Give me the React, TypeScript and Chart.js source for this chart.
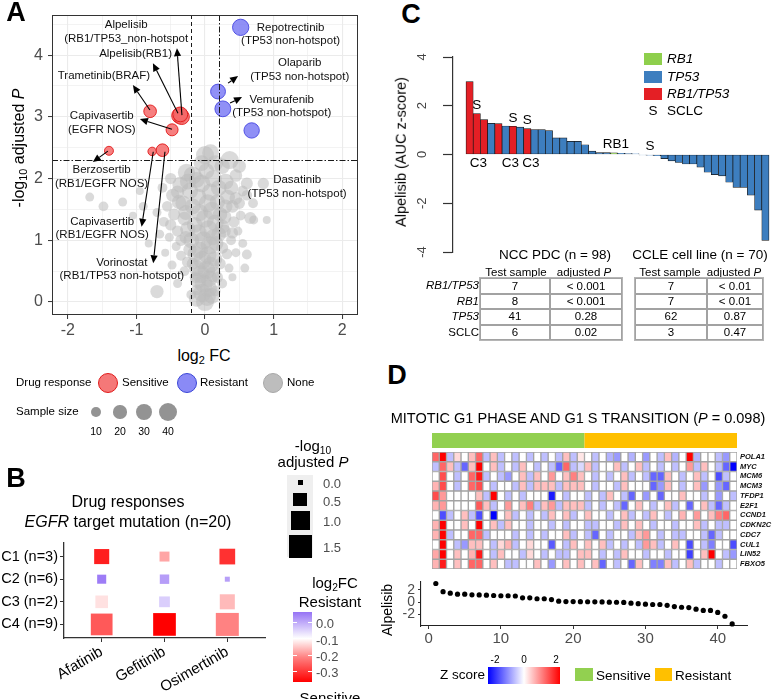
import React, { useEffect, useRef } from 'react';
import { Chart, registerables } from 'chart.js';

Chart.register(...registerables);

const FONT = '"Liberation Sans", Arial, Helvetica, sans-serif';
Chart.defaults.font.family = FONT;

/* ---------------- Panel A: volcano plot ---------------- */
// [log2 FC, -log10 adjusted P, sample size]
const nonePoints: [number, number, number][] = [
  [0.00, 0.00, 40], [0.03, 0.08, 38], [-0.04, 0.15, 40], [0.05, 0.22, 36], [-0.02, 0.30, 40],
  [0.06, 0.38, 34], [-0.06, 0.45, 38], [0.02, 0.52, 40], [0.08, 0.60, 32], [-0.04, 0.68, 40],
  [0.04, 0.76, 38], [-0.08, 0.84, 34], [0.07, 0.92, 40], [-0.02, 1.00, 40], [0.12, 1.05, 30],
  [-0.10, 1.12, 36], [0.05, 1.18, 40], [-0.15, 1.25, 30], [0.15, 1.28, 34], [0.00, 1.35, 40],
  [-0.08, 1.45, 36], [0.10, 1.48, 38], [-0.18, 1.55, 30], [0.04, 1.60, 40], [0.18, 1.62, 28],
  [-0.10, 1.70, 34], [0.08, 1.78, 36], [-0.22, 1.80, 32], [0.20, 1.85, 30], [-0.05, 1.92, 38],
  [0.12, 2.00, 36], [-0.18, 2.05, 40], [0.02, 2.12, 30], [0.00, 2.38, 40], [0.36, 2.30, 40],
  [0.50, 2.20, 20], [-0.27, 2.10, 36], [-0.12, 1.98, 30],
  [-0.12, 0.05, 30], [0.10, 0.10, 30], [-0.10, 0.35, 30], [0.12, 0.45, 28], [-0.12, 0.55, 30],
  [0.14, 0.70, 28], [-0.14, 0.78, 30], [0.16, 0.95, 26], [-0.20, 1.00, 30], [0.20, 1.10, 26],
  [-0.25, 1.18, 28], [0.25, 1.22, 24], [-0.28, 1.45, 26], [0.28, 1.38, 24], [-0.32, 1.60, 28],
  [0.30, 1.55, 22], [-0.25, 1.95, 30], [0.38, 1.85, 24], [-0.40, 1.78, 20], [0.45, 1.68, 18],
  [-0.05, 2.25, 30], [0.15, 2.25, 30], [0.08, 2.42, 34], [-0.50, 1.25, 14], [0.40, 1.12, 14],
  [-0.35, 1.00, 14], [0.32, 0.78, 12], [-0.26, 0.65, 12], [0.25, 0.30, 10], [-0.20, 0.12, 10],
  [-0.30, 1.35, 22], [-0.28, 1.05, 18], [-0.22, 0.85, 20], [-0.18, 0.62, 16], [-0.14, 0.40, 14],
  [-0.12, 0.20, 12], [-0.35, 0.75, 10], [-0.40, 1.15, 14], [-0.45, 1.42, 16], [-0.38, 1.62, 24],
  [-0.47, 1.73, 20], [-0.55, 1.55, 12], [-0.60, 1.30, 10], [-0.52, 1.05, 8], [-0.42, 0.90, 8],
  [-0.48, 0.60, 8], [-0.30, 0.50, 10], [-0.58, 0.80, 6], [-0.66, 1.10, 8], [-0.70, 1.45, 8],
  [-0.36, 1.90, 30], [-0.50, 2.00, 14], [-0.62, 1.85, 10], [-0.70, 0.17, 20], [-0.82, 0.95, 6],
  [-0.90, 1.55, 8], [-1.05, 1.40, 6], [-1.20, 1.62, 8], [-1.48, 1.55, 10], [-1.68, 1.70, 8],
  [-0.95, 1.80, 6], [-0.40, 0.30, 8],
  [0.22, 1.42, 24], [0.28, 1.15, 20], [0.25, 0.88, 16], [0.22, 0.62, 14], [0.18, 0.40, 14],
  [0.15, 0.18, 12], [0.33, 1.70, 26], [0.30, 1.95, 30], [0.40, 1.55, 18], [0.42, 1.30, 14],
  [0.38, 1.00, 10], [0.45, 0.80, 8], [0.35, 0.55, 8], [0.50, 1.60, 14], [0.52, 1.40, 10],
  [0.48, 1.15, 8], [0.55, 0.95, 8], [0.61, 1.92, 16], [0.61, 1.73, 12], [0.66, 1.36, 16],
  [0.71, 1.33, 8], [0.90, 1.33, 6], [0.85, 1.92, 14], [0.61, 0.77, 10], [0.58, 0.55, 8],
  [0.45, 2.05, 18], [0.25, 2.20, 28], [0.55, 1.80, 12], [0.70, 1.60, 10], [0.40, 0.40, 6],
];
const sensitivePoints: [number, number, number][] = [
  [-0.80, 3.09, 18], [-0.37, 3.02, 30], [-0.34, 3.00, 28], [-0.36, 3.04, 26],
  [-0.48, 2.79, 16], [-1.40, 2.45, 8], [-0.77, 2.44, 7], [-0.62, 2.46, 18],
];
const resistantPoints: [number, number, number][] = [
  [0.52, 4.45, 32], [0.19, 3.41, 26], [0.26, 3.13, 30], [0.68, 2.78, 28],
];
const foldChangeCutoffs = [-0.2, 0.2];
const pValueCutoff = 2.3;
const sampleSizeLegend = [10, 20, 30, 40];

const volcanoLabels = [
  { lines: ['Alpelisib', '(RB1/TP53_non-hotspot'], x: -1.149, y: 4.486 },
  { lines: ['Alpelisib(RB1)'], x: -1.012, y: 4.028 },
  { lines: ['Trametinib(BRAF)'], x: -1.474, y: 3.66 },
  { lines: ['Capivasertib', '(EGFR NOS)'], x: -1.504, y: 3.012 },
  { lines: ['Berzosertib', '(RB1/EGFR NOS)'], x: -1.508, y: 2.138 },
  { lines: ['Capivasertib', '(RB1/EGFR NOS)'], x: -1.499, y: 1.30 },
  { lines: ['Vorinostat', '(RB1/TP53 non-hotspot)'], x: -1.212, y: 0.643 },
  { lines: ['Repotrectinib', '(TP53 non-hotspot)'], x: 1.248, y: 4.449 },
  { lines: ['Olaparib', '(TP53 non-hotspot)'], x: 1.38, y: 3.875 },
  { lines: ['Vemurafenib', '(TP53 non-hotspot)'], x: 1.118, y: 3.283 },
  { lines: ['Dasatinib', '(TP53 non-hotspot)'], x: 1.343, y: 1.976 },
];
const volcanoArrows: [number, number, number, number][] = [
  [-0.336, 3.028, -0.409, 4.113],
  [-0.394, 3.06, -0.759, 3.87],
  [-0.803, 3.11, -1.051, 3.514],
  [-0.482, 2.80, -0.949, 2.964],
  [-1.416, 2.445, -1.635, 2.267],
  [-0.754, 2.434, -0.924, 1.219],
  [-0.584, 2.434, -0.754, 0.627],
  [0.336, 3.547, 0.482, 3.66],
  [0.365, 3.223, 0.54, 3.32],
];

/* ---------------- Panel B ---------------- */
const drugsB = ['Afatinib', 'Gefitinib', 'Osimertinib'];
const clustersB = ['C1 (n=3)', 'C2 (n=6)', 'C3 (n=2)', 'C4 (n=9)'];
const log2fcB = [
  [-0.35, -0.2, -0.33],
  [0.05, 0.012, 0.01],
  [-0.134, -0.044, -0.177],
  [-0.285, -0.385, -0.24],
];
const negLogPB = [
  [0.6, 0.22, 0.66],
  [0.17, 0.19, 0.0],
  [0.4, 0.27, 0.6],
  [1.33, 1.46, 1.5],
];
const pLegendValues = [0.0, 0.5, 1.0, 1.5];
const fcLegendValues = [0.0, -0.1, -0.2, -0.3];

/* ---------------- Panel C ---------------- */
const alpelisibScores = [
  2.99, 1.68, 1.43, 1.28, 1.27, 1.17, 1.16, 1.12, 1.06, 1.02,
  1.02, 0.98, 0.68, 0.68, 0.54, 0.54, 0.40, 0.14, 0.08, 0.08,
  0.07, 0.05, 0.04, 0.03, -0.02, -0.03, -0.05, -0.17, -0.26, -0.33,
  -0.39, -0.39, -0.52, -0.73, -0.83, -0.88, -1.14, -1.35, -1.35, -1.67,
  -2.28, -3.52,
];
const scoreGroups = [
  'RB1/TP53', 'RB1/TP53', 'RB1/TP53', 'TP53', 'RB1/TP53', 'TP53', 'RB1/TP53', 'TP53', 'RB1/TP53', 'TP53',
  'TP53', 'TP53', 'TP53', 'TP53', 'TP53', 'TP53', 'TP53', 'TP53', 'TP53', 'TP53',
  'RB1', 'TP53', 'TP53', 'TP53', 'TP53', 'TP53', 'TP53', 'TP53', 'TP53', 'TP53',
  'TP53', 'TP53', 'TP53', 'TP53', 'TP53', 'TP53', 'TP53', 'TP53', 'TP53', 'TP53',
  'TP53', 'TP53',
];
const groupColors: Record<string, string> = { RB1: '#8ecf4c', TP53: '#3d7ebf', 'RB1/TP53': '#e41f25' };
const sclcBars = [2, 7, 9, 26];
const c3Bars = [2, 7, 9];
const c3Shift = [1.5, -2.5, 3.5];
const rb1Bar = 21;

const tableRowLabels = ['RB1/TP53', 'RB1', 'TP53', 'SCLC'];
const nccTestSample = ['7', '8', '41', '6'];
const nccAdjP = ['< 0.001', '< 0.001', '0.28', '0.02'];
const ccleTestSample = ['7', '7', '62', '3'];
const ccleAdjP = ['< 0.01', '< 0.01', '0.87', '0.47'];

/* ---------------- Panel D ---------------- */
const heatGenes = ['POLA1', 'MYC', 'MCM6', 'MCM3', 'TFDP1', 'E2F1', 'CCND1', 'CDKN2C', 'CDC7', 'CUL1', 'LIN52', 'FBXO5'];
const zPOLA1 = [1.2, 2, -0.5, 0.3, 0, 0.5, 1.2, -0.5, 0.5, -0.5, 0, -0.5, 0, -0.5, 0, -0.5, 0, -0.5, 0.5, -0.5, 0.2, 0, -0.5, 0, -0.6, -0.8, 0, -0.6, 0, -0.8, 0, -0.5, 0.5, -0.6, 0, 2, -0.6, 0, 0, -0.5, -0.8, 0];
const zMYC = [-0.5, 1.2, 0.5, -0.5, -1.2, 0.5, 2, 0, 0.5, -0.5, 0, -0.5, 0.5, 0, -0.5, 0, -0.5, -1.2, 1.2, -0.5, -0.3, 0.5, -0.5, 0, 0, 0.5, -0.5, 0, 0.5, -0.5, 0, -0.5, 0, -0.5, 0, 0.8, -0.5, 0.5, 0, -0.5, -1.2, -2];
const zMCM6 = [0, 1.4, 0, -0.5, 0, 1.2, 1.8, -0.5, 0, -0.5, -0.8, 0, 0.5, -0.5, 0.5, 0, 0.8, 0, 0.5, 1.0, 0.5, 0, -0.5, 0, -0.5, 0, 0.5, -0.5, 0, -0.5, -1.2, -1.2, 0.5, 0, -0.5, 0, 0.5, -0.5, 0, -1.4, -0.5, 0];
const zMCM3 = [0.6, 1.4, 0, -0.5, 0, 1.2, 1.4, 0, -0.5, 0, 0, -0.5, 0.5, -0.5, 0.5, 0.5, 0.5, -0.5, 0.5, 0.5, 0.5, 0, -0.5, 0, 0, -0.5, 0.5, 0, 0, 0, -1.2, -0.8, 0.5, 0, -0.5, 0, 0.5, -0.8, 0, -0.8, -1.2, 0];
const zTFDP1 = [1.4, 0.8, 0, 0, 0, 0, 0.5, -0.5, 2, 0, -0.5, 0, -0.5, 0, 0, 0, -1.8, 0, -0.5, 0, 0, -0.5, 0, -0.5, 0.5, 0, -0.5, -1.2, 0, -0.8, 0, -1.2, 0, 0, 0.5, 0, 0, -0.5, 0, -0.8, 0, -0.5];
const zE2F1 = [0.6, 0.8, 0, 0, 0, 0, 1.3, 0.5, -0.5, 0, 0.8, 0, 0.5, 1.0, -0.5, 0.5, 0.8, -0.5, 0.5, 0.5, 0.5, -0.5, 0, -0.5, 0, -0.5, -1.2, 0, 0.5, 0, -0.5, 0, 0.5, -0.5, 0, -1.2, 0, 0.5, -0.5, -1.2, -0.5, 0];
const zCCND1 = [0, -1.4, -0.5, 0, 0.5, -0.5, -1.4, 0, -2, 0, 0.5, -0.5, 0, -0.5, 0, -0.5, 0.5, 0, 0.5, -0.5, 0, 0.5, 0, 0, -0.5, 0, 0.5, -0.5, 0, -0.5, 0.5, 0, -0.5, 0, 0.6, 0, 0.8, 0, 0.5, 1.0, 1.2, 0];
const zCDKN2C = [0.6, 2, 0, 0, 0.5, 0, 2, 0, 0.5, -0.5, 0.5, 0, 0, -0.5, 0, 0, -0.5, 0, -0.5, 0, 0, -0.5, -0.5, 0, 0, -0.5, 0.5, 0, 0.5, 0, -0.5, 0, 0, -0.5, 0, 0, 0.5, -0.5, 0, -0.5, -0.5, 0];
const zCDC7 = [0.6, 2, -0.5, 0, 0, 1.2, 1.2, -0.5, 0, 0, 0, -0.5, 0, -0.5, 0, -0.5, 0, 0, 0.5, -0.5, 0, -0.5, -1.2, 0, -0.5, 0, 0, -0.5, 0.5, 0.8, 0, -0.5, 0, -0.5, -0.5, 0, 0, -0.5, -1.2, -0.5, 0, 0];
const zCUL1 = [0, 2, 0, -0.5, -0.8, 0.5, 0.5, 0, -0.5, 0.3, 0.6, -0.5, 0, 0.3, 0, 0, -1.3, 0, -0.5, 0.5, 0, 0.5, 0, 0.5, -0.5, 0, -0.5, 0, -0.5, 0.8, 0.5, -0.5, 0, 0.5, 0, -1.4, 0, -0.5, -1.0, 0, 0, -1.4];
const zLIN52 = [0.7, 2, 0, 0.5, 0, 0.6, 1.8, 0, -0.5, 0.5, 0, 0, -0.5, 0.3, 0, -0.5, 0, -0.5, -0.5, 0, 0.5, 0.5, 0, -0.5, 0, -0.5, 0.5, 0, 0, -0.5, 0, 0, -0.5, 0, 0, -1.5, 0, 0.5, 2, 0, -0.5, -0.8];
const zFBXO5 = [0.6, 1.8, 0, 0.5, 0, 1.2, 1.2, 0, 0.5, 0, -0.5, -0.5, 0, 0, 0.5, 0, -0.8, 0, 0.5, 0, 0.5, 0, 0.5, -1.2, 0, -0.5, 0, -1.2, 0.5, 0, -1.0, -1.0, 0.5, -0.5, 0, 0.5, -0.5, 0, 0, -0.5, 0, 0];
const heatRows = [zPOLA1, zMYC, zMCM6, zMCM3, zTFDP1, zE2F1, zCCND1, zCDKN2C, zCDC7, zCUL1, zLIN52, zFBXO5];
const nSensitive = 21;
const SENS_COLOR = '#92d050';
const RES_COLOR = '#ffc000';

/* ---------------- helpers ---------------- */
const sampleRadius = (n: number) => 1.3 * Math.sqrt(n) + 0.8;
const bubbles = (pts: [number, number, number][]) => pts.map(([x, y, n]) => ({ x, y, r: sampleRadius(n) }));
const isInt = (v: number) => Math.abs(v - Math.round(v)) < 1e-6;
const mix = (a: number[], b: number[], t: number) =>
  `rgb(${a.map((v, i) => Math.round(v + (b[i] - v) * t)).join(',')})`;
const fcColor = (v: number) =>
  v >= -0.1
    ? mix([255, 255, 255], [150, 115, 245], Math.min((v + 0.1) / 0.16, 1))
    : mix([255, 255, 255], [255, 0, 0], Math.min((-0.1 - v) / 0.285, 1));
const squareSide = (p: number) => Math.sqrt(25 + 336 * p);
const zColor = (v: number) => {
  const t = Math.max(-1, Math.min(1, v / 2));
  return t >= 0 ? mix([255, 255, 255], [255, 0, 0], t) : mix([255, 255, 255], [0, 0, 255], -t);
};

function drawArrow(ctx: CanvasRenderingContext2D, x0: number, y0: number, x1: number, y1: number) {
  const ang = Math.atan2(y1 - y0, x1 - x0);
  const L = 8, W = 3.6;
  const bx = x1 - L * Math.cos(ang), by = y1 - L * Math.sin(ang);
  ctx.beginPath(); ctx.moveTo(x0, y0); ctx.lineTo(bx, by); ctx.stroke();
  ctx.beginPath(); ctx.moveTo(x1, y1);
  ctx.lineTo(bx + W * Math.sin(ang), by - W * Math.cos(ang));
  ctx.lineTo(bx - W * Math.sin(ang), by + W * Math.cos(ang));
  ctx.closePath(); ctx.fill();
}

const noTip = { legend: { display: false }, tooltip: { enabled: false } };

/* ---------------- charts ---------------- */
function makeVolcano(canvas: HTMLCanvasElement) {
  const plugin = {
    id: 'volcanoDecor',
    afterDatasetsDraw(chart: any) {
      const { ctx, chartArea: ca } = chart;
      const x = chart.scales.x, y = chart.scales.y;
      ctx.save();
      ctx.strokeStyle = '#1a1a1a'; ctx.lineWidth = 1;
      foldChangeCutoffs.forEach((v, i) => {
        ctx.setLineDash(i === 0 ? [4, 3] : [6, 2, 1.5, 2]);
        const px = Math.round(x.getPixelForValue(v)) + 0.5;
        ctx.beginPath(); ctx.moveTo(px, ca.top); ctx.lineTo(px, ca.bottom); ctx.stroke();
      });
      ctx.setLineDash([6, 2, 1.5, 2]);
      const py = Math.round(y.getPixelForValue(pValueCutoff)) + 0.5;
      ctx.beginPath(); ctx.moveTo(ca.left, py); ctx.lineTo(ca.right, py); ctx.stroke();
      ctx.setLineDash([]);
      ctx.strokeStyle = '#333'; ctx.lineWidth = 1;
      ctx.strokeRect(ca.left + 0.5, ca.top + 0.5, ca.width - 1, ca.height - 1);
      ctx.strokeStyle = '#000'; ctx.fillStyle = '#000'; ctx.lineWidth = 1.1;
      volcanoArrows.forEach(([x0, y0, x1, y1]) =>
        drawArrow(ctx, x.getPixelForValue(x0), y.getPixelForValue(y0), x.getPixelForValue(x1), y.getPixelForValue(y1)));
      ctx.font = `11.5px ${FONT}`; ctx.textAlign = 'center'; ctx.textBaseline = 'middle'; ctx.fillStyle = '#111';
      volcanoLabels.forEach((l) => {
        const px = x.getPixelForValue(l.x), p0 = y.getPixelForValue(l.y);
        l.lines.forEach((t, i) => ctx.fillText(t, px, p0 + i * 13.5));
      });
      ctx.restore();
    },
  };
  const axis = (min: number, max: number, fit: (s: any) => void, pad: number) => ({
    type: 'linear', min, max,
    ticks: {
      stepSize: 0.5, includeBounds: false, autoSkip: false, maxRotation: 0, padding: pad,
      color: '#4d4d4d', font: { size: 16 },
      callback: (v: number) => (isInt(v) ? String(Math.round(v)) : ''),
    },
    grid: {
      color: '#ebebeb', lineWidth: (c: any) => (c.tick && isInt(c.tick.value) ? 1.1 : 0.6),
      drawTicks: true, tickLength: 4, tickWidth: 1,
      tickColor: (c: any) => (c.tick && isInt(c.tick.value) ? '#333' : 'rgba(0,0,0,0)'),
    },
    border: { display: false },
    afterFit: fit,
  });
  return new Chart(canvas, {
    type: 'bubble',
    data: {
      datasets: [
        { data: bubbles(nonePoints), backgroundColor: 'rgba(188,188,188,0.55)', borderWidth: 0 },
        { data: bubbles(sensitivePoints), backgroundColor: 'rgba(244,105,105,0.85)', borderColor: 'rgba(225,25,25,0.9)', borderWidth: 1 },
        { data: bubbles(resistantPoints), backgroundColor: 'rgba(125,125,245,0.85)', borderColor: 'rgba(70,70,225,0.9)', borderWidth: 1 },
      ],
    } as any,
    options: {
      responsive: false, animation: false,
      layout: { padding: { left: 14, top: 15, right: 22, bottom: 0 } },
      plugins: noTip,
      scales: {
        x: axis(-2.23, 2.23, (s: any) => { s.height = 30; }, 2),
        y: axis(-0.21, 4.65, (s: any) => { s.width = 38; }, 5),
      },
    } as any,
    plugins: [plugin],
  });
}

function makeEgfrMatrix(canvas: HTMLCanvasElement) {
  const pts: any[] = [];
  clustersB.forEach((_, i) =>
    drugsB.forEach((__, j) =>
      pts.push({ x: j + 1, y: i + 1, side: squareSide(negLogPB[i][j]), color: fcColor(log2fcB[i][j]) })));
  const common = {
    grid: { drawOnChartArea: false, drawTicks: true, tickLength: 4, tickColor: '#333', tickWidth: 1 },
    border: { display: true, color: '#333', width: 1.3 },
  };
  return new Chart(canvas, {
    type: 'scatter',
    data: {
      datasets: [{
        data: pts,
        pointStyle: 'rect',
        pointRadius: (c: any) => (c.raw ? c.raw.side / Math.SQRT2 : 0),
        pointBackgroundColor: (c: any) => (c.raw ? c.raw.color : '#000'),
        pointBorderWidth: 0,
        clip: false,
      }],
    } as any,
    options: {
      responsive: false, animation: false,
      layout: { padding: { left: 2, top: 103, right: 25, bottom: 0 } },
      plugins: noTip,
      scales: {
        x: {
          type: 'linear', min: 0.4, max: 3.6,
          afterBuildTicks: (s: any) => { s.ticks = drugsB.map((_, i) => ({ value: i + 1 })); },
          ticks: { autoSkip: false, minRotation: 30, maxRotation: 30, color: '#000', font: { size: 15 }, padding: 1, callback: (v: number) => drugsB[Math.round(v) - 1] },
          afterFit: (s: any) => { s.height = 61; },
          ...common,
        },
        y: {
          type: 'linear', min: 0.4, max: 4.6, reverse: true,
          afterBuildTicks: (s: any) => { s.ticks = clustersB.map((_, i) => ({ value: i + 1 })); },
          ticks: { autoSkip: false, color: '#000', font: { size: 14.5 }, padding: 2, callback: (v: number) => clustersB[Math.round(v) - 1] },
          afterFit: (s: any) => { s.width = 62; },
          ...common,
        },
      },
    } as any,
  });
}

function makeWaterfall(canvas: HTMLCanvasElement) {
  const plugin = {
    id: 'waterfallDecor',
    afterDatasetsDraw(chart: any) {
      const { ctx, chartArea: ca } = chart;
      const x = chart.scales.x, y = chart.scales.y;
      ctx.save();
      ctx.fillStyle = '#444'; ctx.font = `13px ${FONT}`; ctx.textAlign = 'center'; ctx.textBaseline = 'middle';
      y.ticks.forEach((t: any) => {
        ctx.save(); ctx.translate(ca.left - 31, y.getPixelForValue(t.value)); ctx.rotate(-Math.PI / 2);
        ctx.fillText(String(t.value), 0, 0); ctx.restore();
      });
      ctx.fillStyle = '#000'; ctx.font = `13.5px ${FONT}`;
      const topOf = (i: number) => y.getPixelForValue(Math.max(alpelisibScores[i - 1], 0));
      sclcBars.forEach((i) => ctx.fillText('S', x.getPixelForValue(i), topOf(i) - 8));
      ctx.fillText('RB1', x.getPixelForValue(rb1Bar) + 2, topOf(rb1Bar) - 9);
      c3Bars.forEach((i, k) => ctx.fillText('C3', x.getPixelForValue(i) + c3Shift[k], y.getPixelForValue(0) + 9));
      ctx.restore();
    },
  };
  return new Chart(canvas, {
    type: 'bar',
    data: {
      datasets: [{
        data: alpelisibScores.map((v, i) => ({ x: i + 1, y: v })),
        backgroundColor: scoreGroups.map((g) => groupColors[g]),
        borderColor: '#151515', borderWidth: 0.7, borderSkipped: false,
        barPercentage: 1, categoryPercentage: 1,
      }],
    } as any,
    options: {
      responsive: false, animation: false,
      layout: { padding: { left: 13, top: 27, right: 3, bottom: 8 } },
      plugins: noTip,
      scales: {
        x: { type: 'linear', min: -1.3, max: 43.33, display: false, offset: false },
        y: {
          min: -4, max: 4,
          ticks: { stepSize: 2, display: false },
          grid: { drawOnChartArea: false, drawTicks: true, tickLength: 10, tickColor: '#333', tickWidth: 1.2 },
          border: { display: true, color: '#333', width: 1.2 },
          afterFit: (s: any) => { s.width = 40; },
        },
      },
    } as any,
    plugins: [plugin],
  });
}

function makeHeatmap(canvas: HTMLCanvasElement) {
  const nCols = heatRows[0].length;
  const plugin = {
    id: 'heatDecor',
    afterDatasetsDraw(chart: any) {
      const { ctx, chartArea: ca } = chart;
      const x = chart.scales.x, y = chart.scales.y;
      const step = x.getPixelForValue(1) - x.getPixelForValue(0);
      const left = x.getPixelForValue(0) - step / 2;
      const split = left + nSensitive * step;
      const right = left + nCols * step;
      ctx.save();
      ctx.fillStyle = SENS_COLOR; ctx.fillRect(left, ca.top - 19, split - left, 15);
      ctx.fillStyle = RES_COLOR; ctx.fillRect(split, ca.top - 19, right - split, 15);
      ctx.font = `italic bold 7.5px ${FONT}`; ctx.fillStyle = '#111'; ctx.textAlign = 'left'; ctx.textBaseline = 'middle';
      heatGenes.forEach((g, r) => ctx.fillText(g, ca.right + 3, y.getPixelForValue(heatGenes.length - r - 0.5)));
      ctx.restore();
    },
  };
  const datasets = heatGenes.map((g, r) => ({
    label: g,
    data: heatRows[r].map(() => 1),
    backgroundColor: heatRows[r].map(zColor),
    borderColor: '#a3a3a3', borderWidth: 1, borderSkipped: false,
    barPercentage: 1, categoryPercentage: 1,
  })).reverse();
  return new Chart(canvas, {
    type: 'bar',
    data: { labels: heatRows[0].map((_, i) => String(i + 1)), datasets } as any,
    options: {
      responsive: false, animation: false,
      layout: { padding: { left: 32, top: 27, right: 41, bottom: 6 } },
      plugins: noTip,
      scales: {
        x: { stacked: true, display: false },
        y: { stacked: true, display: false, min: 0, max: heatGenes.length },
      },
    } as any,
    plugins: [plugin],
  });
}

function makeDots(canvas: HTMLCanvasElement) {
  const grid = { drawOnChartArea: false, drawTicks: true, tickLength: 3, tickColor: '#333', tickWidth: 1 };
  const border = { display: true, color: '#222', width: 1.1 };
  return new Chart(canvas, {
    type: 'scatter',
    data: {
      datasets: [{
        data: alpelisibScores.map((v, i) => ({ x: i + 1, y: v })),
        pointRadius: 2.6, pointBackgroundColor: '#000', pointBorderWidth: 0, clip: false,
      }],
    } as any,
    options: {
      responsive: false, animation: false,
      layout: { padding: { left: 0, top: 9, right: 31, bottom: 0 } },
      plugins: noTip,
      scales: {
        x: {
          type: 'linear', min: -1.05, max: 44.05,
          ticks: { stepSize: 10, includeBounds: false, maxRotation: 0, color: '#4d4d4d', font: { size: 15 }, padding: 1 },
          grid, border, afterFit: (s: any) => { s.height = 30; },
        },
        y: {
          type: 'linear', min: -3.85, max: 3.33,
          ticks: { stepSize: 2, includeBounds: false, color: '#4d4d4d', font: { size: 14 }, padding: 3 },
          grid, border, afterFit: (s: any) => { s.width = 21; },
        },
      },
    } as any,
  });
}

/* ---------------- HTML helpers ---------------- */
type TP = { x: number; y: number; a?: 'start' | 'middle' | 'end'; s?: number; rot?: boolean; style?: React.CSSProperties; children: React.ReactNode };
const T = ({ x, y, a = 'middle', s = 13, rot, style, children }: TP) => {
  const tx = a === 'middle' ? '-50%' : a === 'end' ? '-100%' : '0';
  return (
    <div style={{
      position: 'absolute', left: x, top: y, fontSize: s, lineHeight: 1, whiteSpace: 'nowrap',
      transform: rot ? 'translate(-50%,-50%) rotate(-90deg)' : `translate(${tx},-50%)`, ...style,
    }}>{children}</div>
  );
};
const Box = ({ x, y, w, h, style }: { x: number; y: number; w: number; h: number; style?: React.CSSProperties }) => (
  <div style={{ position: 'absolute', left: x, top: y, width: w, height: h, boxSizing: 'border-box', ...style }} />
);
const Sub = ({ children }: { children: React.ReactNode }) => (
  <span style={{ fontSize: '0.68em', verticalAlign: '-0.3em', lineHeight: 0 }}>{children}</span>
);

function DataTable({ x, cols, a, b }: { x: number[]; cols: number; a: string[]; b: string[] }) {
  const top = 278.3, rh = 15.45;
  const out: React.ReactNode[] = [];
  a.forEach((v, i) => {
    [v, b[i]].forEach((txt, j) => {
      out.push(<Box key={`b${i}${j}`} x={x[j]} y={top + i * rh} w={x[j + 1] - x[j]} h={rh} style={{ border: '1px solid #a2a2a2' }} />);
      out.push(<T key={`t${i}${j}`} x={(x[j] + x[j + 1]) / 2} y={top + i * rh + rh / 2 + 0.5} s={11.5}>{txt}</T>);
    });
  });
  out.push(<Box key="outer" x={x[0] - 1} y={top - 1} w={x[cols] - x[0] + 2} h={rh * a.length + 2} style={{ border: '1px solid #b5b5b5' }} />);
  return <>{out}</>;
}

export default function App() {
  const aRef = useRef<HTMLCanvasElement | null>(null);
  const bRef = useRef<HTMLCanvasElement | null>(null);
  const cRef = useRef<HTMLCanvasElement | null>(null);
  const hRef = useRef<HTMLCanvasElement | null>(null);
  const dRef = useRef<HTMLCanvasElement | null>(null);

  useEffect(() => {
    const charts = [
      makeVolcano(aRef.current!),
      makeEgfrMatrix(bRef.current!),
      makeWaterfall(cRef.current!),
      makeHeatmap(hRef.current!),
      makeDots(dRef.current!),
    ];
    return () => charts.forEach((c) => c.destroy());
  }, []);

  const cv = (r: any, x: number, y: number, w: number, h: number) => (
    <canvas ref={r} width={w} height={h} style={{ position: 'absolute', left: x, top: y, width: w, height: h }} />
  );
  const bold = { fontWeight: 700 as const };
  const sizeKeys = [482, 499.5, 520, 546];
  const fcTicks = [622, 638.5, 655, 671];

  return (
    <div style={{ position: 'absolute', left: 0, top: 0, width: 778, height: 699, overflow: 'hidden', background: '#fff', fontFamily: FONT, color: '#000' }}>
      {cv(aRef, 0, 0, 380, 345)}
      {cv(bRef, 0, 440, 290, 259)}
      {cv(cRef, 400, 30, 378, 230)}
      {cv(hRef, 400, 425, 378, 150)}
      {cv(dRef, 400, 570, 378, 86)}

      {/* Panel labels */}
      <T x={16} y={12} s={27} style={bold}>A</T>
      <T x={16} y={478} s={27} style={bold}>B</T>
      <T x={411} y={14} s={27} style={bold}>C</T>
      <T x={397} y={375} s={27} style={bold}>D</T>

      {/* Panel A titles & legend */}
      <T x={19} y={148} s={16} rot>-log<Sub>10</Sub> adjusted <i>P</i></T>
      <T x={204} y={356} s={16}>log<Sub>2</Sub> FC</T>
      <T x={16} y={383} a="start" s={11.5}>Drug response</T>
      <Box x={98} y={373} w={20} h={20} style={{ borderRadius: '50%', background: 'rgba(244,105,105,0.9)', border: '1.5px solid #e01b1b' }} />
      <T x={122} y={383} a="start" s={11.5}>Sensitive</T>
      <Box x={177} y={373} w={20} h={20} style={{ borderRadius: '50%', background: 'rgba(125,125,245,0.9)', border: '1.5px solid #3a46d6' }} />
      <T x={200} y={383} a="start" s={11.5}>Resistant</T>
      <Box x={263} y={373} w={20} h={20} style={{ borderRadius: '50%', background: '#bdbdbd', border: '1.5px solid #a8a8a8' }} />
      <T x={287} y={383} a="start" s={11.5}>None</T>
      <T x={16} y={412} a="start" s={11.5}>Sample size</T>
      {sampleSizeLegend.map((n, i) => {
        const r = sampleRadius(n); const cx = 96 + i * 24;
        return (
          <React.Fragment key={n}>
            <Box x={cx - r} y={412 - r} w={2 * r} h={2 * r} style={{ borderRadius: '50%', background: 'rgba(128,128,128,0.85)' }} />
            <T x={cx} y={431} s={10.5}>{n}</T>
          </React.Fragment>
        );
      })}

      {/* Panel B titles & legends */}
      <T x={128} y={502} s={16}>Drug responses</T>
      <T x={128} y={522} s={16}><i>EGFR</i> target mutation (n=20)</T>
      <T x={313} y={445} s={15}>-log<Sub>10</Sub></T>
      <T x={313} y={461} s={15}>adjusted <i>P</i></T>
      <Box x={287} y={475} w={26} h={82} style={{ background: '#efefef' }} />
      {pLegendValues.map((p, i) => {
        const s = squareSide(p);
        return (
          <React.Fragment key={p}>
            <Box x={300 - s / 2} y={sizeKeys[i] - s / 2} w={s} h={s} style={{ background: '#000' }} />
            <T x={323} y={sizeKeys[i] + 1} a="start" s={13} style={{ color: '#4d4d4d' }}>{p.toFixed(1)}</T>
          </React.Fragment>
        );
      })}
      <T x={335} y={582} s={15}>log<Sub>2</Sub>FC</T>
      <T x={330} y={601} s={15}>Resistant</T>
      <Box x={293} y={612} w={19} h={70} style={{ background: 'linear-gradient(to bottom, rgb(150,115,245) 0%, #ffffff 38%, #ff8080 65%, #ff0000 100%)' }} />
      {fcLegendValues.map((v, i) => (
        <React.Fragment key={v}>
          <Box x={293} y={fcTicks[i] - 0.5} w={4} h={1} style={{ background: '#fff' }} />
          <Box x={308} y={fcTicks[i] - 0.5} w={4} h={1} style={{ background: '#fff' }} />
          <T x={316} y={fcTicks[i] + 1} a="start" s={13} style={{ color: '#4d4d4d' }}>{v.toFixed(1)}</T>
        </React.Fragment>
      ))}
      <T x={330} y={697} s={15}>Sensitive</T>

      {/* Panel C axis title, legend, tables */}
      <T x={401} y={152} s={14.5} rot>Alpelisib (AUC z-score)</T>
      <Box x={644} y={53} w={18} h={12} style={{ background: groupColors.RB1 }} />
      <Box x={644} y={71} w={18} h={12} style={{ background: groupColors.TP53 }} />
      <Box x={644} y={87.5} w={18} h={12.5} style={{ background: groupColors['RB1/TP53'] }} />
      <T x={667} y={59} a="start" s={13.5}><i>RB1</i></T>
      <T x={667} y={76.5} a="start" s={13.5}><i>TP53</i></T>
      <T x={667} y={94} a="start" s={13.5}><i>RB1/TP53</i></T>
      <T x={653} y={111} s={13.5}>S</T>
      <T x={667} y={111} a="start" s={13.5}>SCLC</T>

      <T x={555} y={255} s={13.5}>NCC PDC (n = 98)</T>
      <T x={700} y={255} s={13.5}>CCLE cell line (n = 70)</T>
      <T x={516} y={273} s={11.5}>Test sample</T>
      <T x={584} y={273} s={11.5}>adjusted <i>P</i></T>
      <T x={670} y={273} s={11.5}>Test sample</T>
      <T x={734} y={273} s={11.5}>adjusted <i>P</i></T>
      {tableRowLabels.map((l, i) => (
        <T key={l} x={479} y={278.3 + i * 15.45 + 8} a="end" s={11.5} style={{ fontStyle: l === 'SCLC' ? 'normal' : 'italic' }}>{l}</T>
      ))}
      <DataTable x={[480, 550, 622]} cols={2} a={nccTestSample} b={nccAdjP} />
      <DataTable x={[635, 707, 763]} cols={2} a={ccleTestSample} b={ccleAdjP} />

      {/* Panel D */}
      <T x={578} y={418} s={14.5}>MITOTIC G1 PHASE AND G1 S TRANSITION (<i>P</i> = 0.098)</T>
      <T x={387} y={610} s={14} rot>Alpelisib</T>
      <T x={440} y={675} a="start" s={13.5}>Z score</T>
      <Box x={488} y={667} w={72} h={17} style={{ background: 'linear-gradient(to right, #0000ff, #ffffff, #ff0000)' }} />
      <T x={495} y={660} s={10}>-2</T>
      <T x={524} y={660} s={10}>0</T>
      <T x={556} y={660} s={10}>2</T>
      <Box x={575} y={668} w={18} h={13} style={{ background: SENS_COLOR }} />
      <T x={596} y={676} a="start" s={13.5}>Sensitive</T>
      <Box x={655} y={668} w={17} h={13} style={{ background: RES_COLOR }} />
      <T x={675} y={676} a="start" s={13.5}>Resistant</T>
    </div>
  );
}
